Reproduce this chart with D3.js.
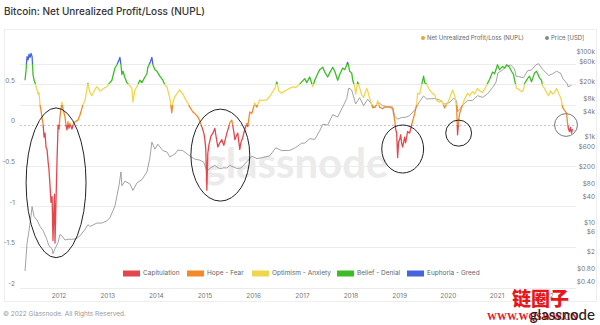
<!DOCTYPE html>
<html>
<head>
<meta charset="utf-8">
<script src="https://cdn.jsdelivr.net/npm/d3@7"></script>
<style>
  html, body { margin: 0; padding: 0; background: #fff; }
  svg { display: block; font-family: Inter, "Open Sans", sans-serif; }
</style>
</head>
<body>
<svg id="chart" width="600" height="325"></svg>
<script>
// NUPL (Net Unrealized Profit/Loss) samples
const nuplDates = [
  "2011-04-21","2011-04-29","2011-05-06","2011-05-14","2011-05-21","2011-05-29","2011-06-05","2011-06-13","2011-06-20","2011-06-28",
  "2011-07-05","2011-07-20","2011-07-28","2011-08-04","2011-08-12","2011-08-19","2011-08-27","2011-09-03","2011-09-11","2011-09-18",
  "2011-09-26","2011-10-03","2011-10-11","2011-10-18","2011-10-26","2011-11-02","2011-11-10","2011-11-17","2011-11-25","2011-11-28",
  "2011-12-02","2011-12-10","2011-12-17","2011-12-25","2012-01-01","2012-01-08","2012-01-23","2012-01-31","2012-02-15","2012-02-22",
  "2012-03-01","2012-03-08","2012-03-16","2012-03-23","2012-04-07","2012-04-15","2012-04-30","2012-05-22","2012-06-06","2012-06-29",
  "2012-07-14","2012-08-05","2012-08-20","2012-09-04","2012-09-27","2012-10-12","2012-11-03","2012-11-18","2012-12-11","2012-12-26",
  "2013-01-17","2013-02-01","2013-02-24","2013-03-11","2013-03-26","2013-04-02","2013-04-10","2013-04-17","2013-04-25","2013-05-10",
  "2013-05-25","2013-06-16","2013-07-01","2013-07-09","2013-07-24","2013-08-08","2013-08-30","2013-09-14","2013-10-07","2013-10-22",
  "2013-10-29","2013-11-13","2013-11-28","2013-12-06","2013-12-21","2014-01-05","2014-01-12","2014-01-27","2014-02-19","2014-03-06",
  "2014-03-21","2014-04-12","2014-04-27","2014-05-05","2014-05-20","2014-06-11","2014-06-26","2014-07-19","2014-08-03","2014-08-25",
  "2014-09-09","2014-10-02","2014-10-17","2014-11-08","2014-11-23","2014-12-08","2014-12-23","2014-12-31","2015-01-07","2015-01-15",
  "2015-01-22","2015-01-30","2015-02-14","2015-03-01","2015-03-16","2015-03-23","2015-04-07","2015-04-22","2015-05-07","2015-05-22",
  "2015-06-14","2015-06-29","2015-07-06","2015-07-21","2015-08-05","2015-08-13","2015-08-28","2015-09-04","2015-09-19","2015-09-27",
  "2015-10-12","2015-10-27","2015-11-11","2015-11-18","2015-12-03","2015-12-18","2016-01-10","2016-01-25","2016-02-16","2016-03-10",
  "2016-04-09","2016-05-01","2016-05-16","2016-06-08","2016-06-23","2016-07-08","2016-07-30","2016-08-14","2016-09-06","2016-09-28",
  "2016-10-21","2016-11-12","2016-12-12","2016-12-27","2017-01-19","2017-02-03","2017-02-25","2017-03-20","2017-04-04","2017-04-26",
  "2017-05-11","2017-06-03","2017-06-18","2017-07-10","2017-07-25","2017-08-17","2017-09-01","2017-09-23","2017-10-08","2017-10-31",
  "2017-11-15","2017-11-30","2017-12-07","2017-12-15","2017-12-22","2018-01-06","2018-01-14","2018-01-29","2018-02-05","2018-02-20",
  "2018-03-07","2018-03-22","2018-04-06","2018-04-29","2018-05-06","2018-05-21","2018-06-13","2018-06-28","2018-07-13","2018-07-20",
  "2018-08-04","2018-08-27","2018-09-11","2018-09-26","2018-10-18","2018-11-10","2018-11-25","2018-12-02","2018-12-10","2018-12-17",
  "2018-12-25","2019-01-01","2019-01-09","2019-01-16","2019-01-24","2019-02-08","2019-02-15","2019-03-02","2019-03-17","2019-04-01",
  "2019-04-24","2019-05-09","2019-05-16","2019-05-31","2019-06-15","2019-06-30","2019-07-08","2019-07-23","2019-08-14","2019-08-29",
  "2019-09-21","2019-10-06","2019-10-28","2019-11-12","2019-12-05","2019-12-27","2020-01-11","2020-02-03","2020-02-18","2020-03-04",
  "2020-03-11","2020-03-19","2020-03-26","2020-04-18","2020-05-03","2020-05-25","2020-06-09","2020-07-02","2020-07-17","2020-08-08",
  "2020-08-23","2020-09-15","2020-09-30","2020-10-22","2020-11-06","2020-11-29","2020-12-14","2021-01-05","2021-01-20","2021-02-12",
  "2021-02-27","2021-03-14","2021-04-05","2021-04-20","2021-05-05","2021-05-13","2021-05-28","2021-06-12","2021-07-04","2021-07-19",
  "2021-07-27","2021-08-18","2021-09-02","2021-09-17","2021-10-10","2021-10-25","2021-11-16","2021-12-01","2021-12-09","2021-12-24",
  "2022-01-08","2022-01-23","2022-02-07","2022-02-22","2022-03-09","2022-03-24","2022-04-08","2022-04-23","2022-04-30","2022-05-08",
  "2022-05-23","2022-06-07","2022-06-14","2022-06-22","2022-06-29","2022-07-07","2022-07-14","2022-07-22"
];
const nuplValues = [
  0.55,0.68,0.84,0.80,0.87,0.83,0.88,0.84,0.62,0.55,
  0.52,0.43,0.38,0.40,0.24,0.18,0.08,0.02,-0.15,-0.10,
  -0.28,-0.30,-0.45,-0.55,-0.76,-0.95,-0.88,-1.42,-0.95,-0.85,
  -1.45,-0.90,-0.45,0.00,-0.05,0.10,0.28,0.20,0.10,0.00,
  -0.06,0.04,-0.04,0.02,-0.05,0.00,0.04,0.06,0.12,0.25,
  0.30,0.51,0.40,0.36,0.44,0.47,0.42,0.43,0.46,0.47,
  0.52,0.55,0.70,0.74,0.80,0.83,0.74,0.62,0.66,0.58,
  0.52,0.48,0.45,0.28,0.43,0.47,0.55,0.52,0.59,0.63,
  0.71,0.76,0.83,0.74,0.68,0.66,0.64,0.60,0.55,0.49,
  0.47,0.33,0.15,0.28,0.35,0.40,0.43,0.38,0.33,0.27,
  0.22,0.16,0.14,0.10,0.05,-0.02,-0.10,-0.18,-0.30,-0.80,
  -0.35,-0.25,-0.14,-0.10,-0.04,-0.12,-0.27,-0.22,-0.18,-0.25,
  -0.10,-0.02,0.03,0.06,-0.08,-0.18,-0.12,-0.10,-0.30,-0.22,
  -0.15,-0.05,0.02,-0.02,0.16,0.14,0.27,0.22,0.31,0.30,
  0.31,0.35,0.39,0.45,0.53,0.42,0.39,0.41,0.43,0.45,
  0.47,0.46,0.50,0.53,0.57,0.52,0.59,0.47,0.55,0.63,
  0.68,0.71,0.65,0.59,0.64,0.71,0.66,0.55,0.62,0.70,
  0.68,0.74,0.77,0.72,0.66,0.64,0.55,0.47,0.38,0.53,
  0.46,0.37,0.34,0.45,0.42,0.33,0.21,0.22,0.25,0.30,
  0.22,0.20,0.22,0.22,0.22,0.20,0.06,-0.05,-0.10,-0.40,
  -0.20,-0.18,-0.12,-0.22,-0.27,-0.15,-0.22,-0.08,-0.10,0.00,
  0.14,0.25,0.39,0.38,0.49,0.60,0.52,0.50,0.43,0.40,
  0.37,0.30,0.28,0.30,0.21,0.27,0.33,0.43,0.36,0.22,
  -0.12,0.05,0.14,0.25,0.32,0.39,0.36,0.41,0.38,0.45,
  0.42,0.40,0.44,0.51,0.56,0.65,0.63,0.74,0.68,0.72,
  0.70,0.74,0.71,0.66,0.62,0.55,0.45,0.44,0.41,0.43,
  0.51,0.57,0.60,0.53,0.64,0.66,0.58,0.55,0.48,0.45,
  0.40,0.36,0.42,0.38,0.40,0.45,0.39,0.34,0.30,0.22,
  0.18,0.15,0.03,-0.05,-0.08,-0.03,-0.10,-0.05
];

// BTC price (USD) samples
const priceDates = [
  "2011-04-21","2011-05-06","2011-05-21","2011-06-05","2011-06-13","2011-06-28","2011-07-20","2011-08-12","2011-09-03","2011-09-26",
  "2011-10-18","2011-11-10","2011-11-17","2011-12-02","2011-12-25","2012-01-08","2012-01-23","2012-02-15","2012-03-08","2012-04-07",
  "2012-05-08","2012-06-06","2012-07-14","2012-08-05","2012-08-20","2012-09-04","2012-10-12","2012-11-18","2012-12-26","2013-01-17",
  "2013-02-24","2013-03-26","2013-04-10","2013-04-17","2013-05-10","2013-06-16","2013-07-09","2013-08-08","2013-09-14","2013-10-22",
  "2013-11-13","2013-11-28","2013-12-21","2014-01-12","2014-02-19","2014-03-21","2014-04-12","2014-05-20","2014-06-11","2014-07-19",
  "2014-08-25","2014-09-24","2014-10-17","2014-11-23","2014-12-23","2015-01-15","2015-02-14","2015-03-16","2015-04-22","2015-05-22",
  "2015-06-14","2015-07-06","2015-08-28","2015-09-27","2015-10-27","2015-11-11","2015-12-03","2015-12-18","2016-01-25","2016-03-10",
  "2016-04-29","2016-06-16","2016-07-30","2016-09-28","2016-11-12","2016-12-27","2017-01-19","2017-02-25","2017-04-04","2017-05-11",
  "2017-06-03","2017-07-10","2017-08-17","2017-09-23","2017-10-31","2017-11-30","2017-12-15","2018-01-06","2018-02-05","2018-03-07",
  "2018-04-06","2018-05-06","2018-06-28","2018-07-25","2018-08-27","2018-09-26","2018-11-10","2018-11-25","2018-12-17","2019-01-16",
  "2019-02-15","2019-03-17","2019-04-24","2019-05-31","2019-06-30","2019-07-23","2019-09-21","2019-10-28","2019-12-05","2020-01-11",
  "2020-02-11","2020-03-04","2020-03-12","2020-04-18","2020-05-25","2020-07-02","2020-08-08","2020-09-15","2020-10-22","2020-11-29",
  "2020-12-25","2021-01-08","2021-02-12","2021-03-14","2021-04-14","2021-05-13","2021-05-23","2021-07-19","2021-08-18","2021-09-17",
  "2021-10-20","2021-11-09","2021-12-09","2022-01-23","2022-02-22","2022-03-24","2022-04-23","2022-05-12","2022-06-14","2022-06-18",
  "2022-07-14"
];
const priceValues = [
  0.9,4,8,18,29,17,14,10,8,5.5,
  3.5,3,2.3,3,4.2,6.5,6,4.8,5,5,
  5.1,6,8.5,11,10,10.5,12,12,13.5,16,
  30,90,190,90,115,100,70,105,125,190,
  400,950,650,850,600,560,430,500,620,600,
  490,420,380,360,320,200,240,270,225,238,
  235,270,230,235,290,330,390,445,390,415,
  450,700,600,610,710,900,900,1150,1100,1750,
  2500,2400,4200,3700,6400,10000,17700,16000,7500,10500,
  6800,9700,6000,8200,6800,6500,6400,3900,3300,3600,
  3650,4000,5400,8500,11500,9800,10000,9300,7400,8100,
  10300,8800,4900,7100,8900,9100,11700,10700,12900,18200,
  24500,40000,47000,58000,61000,50000,34000,30800,45000,47000,
  62000,66000,49000,35000,38000,44000,39500,29000,22000,19000,
  20500
];

// Axis tick values and labels
const nuplTicks = [0.5, 0, -0.5, -1, -1.5, -2];
const nuplGrid = [0.75, 0.5, 0.25, 0, -0.5, -1, -1.5, -2];
const priceTicks = [100000, 60000, 20000, 8000, 4000, 1000, 600, 200, 80, 40, 10, 6, 2, 0.8, 0.4];
const priceTickLabels = ["$100k","$60k","$20k","$8k","$4k","$1k","$600","$200","$80","$40","$10","$6","$2","$0.80","$0.40"];
const yearTicks = [2012, 2013, 2014, 2015, 2016, 2017, 2018, 2019, 2020, 2021, 2022];

// Market-sentiment zones (lower bound of each band)
const zoneNames = ["Capitulation", "Hope - Fear", "Optimism - Anxiety", "Belief - Denial", "Euphoria - Greed"];
const zoneColors = ["#e3474d", "#f28a2a", "#efd64c", "#3cbd27", "#4465dd"];
const zoneBounds = [0, 0.25, 0.5, 0.75];

// Highlighted capitulation episodes: centre date/value with half-widths in days / NUPL units
const highlightDates = ["2011-12-10", "2015-04-26", "2019-01-24", "2020-03-19", "2022-06-03"];
const highlightValues = [-0.71, -0.37, -0.295, -0.10, 0.0];
const highlightDays = [225, 221, 157, 97, 86];
const highlightSpans = [0.92, 0.565, 0.295, 0.16, 0.14];

const parse = d3.utcParse("%Y-%m-%d");
const nupl = nuplDates.map((d, i) => ({ date: parse(d), value: nuplValues[i] }));
const price = priceDates.map((d, i) => ({ date: parse(d), value: priceValues[i] }));

const svg = d3.select("#chart");
const W = 600, H = 325;
const plotLeft = 20, plotRight = 576;

const x = d3.scaleUtc()
  .domain([new Date(Date.UTC(2012, 0, 1)), new Date(Date.UTC(2021, 0, 1))])
  .range([59, 497]);
const y = d3.scaleLinear().domain([-2, 1]).range([287.8, 43.6]);
const yPrice = d3.scaleLog().domain([0.4, 100000]).range([286, 56]);

// Title
svg.append("text")
  .attr("x", 4).attr("y", 14.5)
  .attr("font-size", 10).attr("font-weight", 500).attr("fill", "#333")
  .text("Bitcoin: Net Unrealized Profit/Loss (NUPL)");

// Panel frame
svg.append("rect")
  .attr("x", 4.5).attr("y", 29.5).attr("width", 592).attr("height", 272)
  .attr("fill", "none").attr("stroke", "#eeeeee");

// Horizontal gridlines
svg.append("g").selectAll("line").data(nuplGrid).join("line")
  .attr("x1", plotLeft).attr("x2", plotRight)
  .attr("y1", d => Math.round(y(d)) + 0.5).attr("y2", d => Math.round(y(d)) + 0.5)
  .attr("stroke", d => d === 0 ? "#c8c8c8" : "#ececec")
  .attr("stroke-dasharray", d => (d === 0 ? "2,2" : null))
  .attr("stroke-width", 1);

// Background brand mark
svg.append("text")
  .attr("x", 296).attr("y", 178).attr("text-anchor", "middle")
  .attr("font-family", "Lato, Inter, sans-serif")
  .attr("font-size", 42).attr("font-weight", 700).attr("fill", "#ebebeb")
  .text("glassnode");

// Left axis labels (NUPL)
svg.append("g").selectAll("text").data(nuplTicks).join("text")
  .attr("x", 15).attr("y", d => y(d) - 3.5)
  .attr("text-anchor", "end").attr("dominant-baseline", "middle")
  .attr("font-size", 6.5).attr("fill", "#777")
  .text(d => d3.format("")(d).replace("−", "-"));

// Right axis labels (price)
svg.append("g").selectAll("text").data(priceTicks).join("text")
  .attr("x", 595).attr("y", d => yPrice(d) - 3.5)
  .attr("text-anchor", "end").attr("dominant-baseline", "middle")
  .attr("font-size", 6.5).attr("fill", "#777")
  .text((d, i) => priceTickLabels[i]);

// Bottom axis labels (years)
svg.append("g").selectAll("text").data(yearTicks).join("text")
  .attr("x", d => x(new Date(Date.UTC(d, 0, 1))))
  .attr("y", 296)
  .attr("text-anchor", "middle").attr("dominant-baseline", "middle")
  .attr("font-size", 6.5).attr("fill", "#777")
  .text(d => d);

// Price line
svg.append("path")
  .datum(price)
  .attr("fill", "none").attr("stroke", "#8a8a8a").attr("stroke-width", 0.8)
  .attr("d", d3.line().x(d => x(d.date)).y(d => yPrice(d.value)));

// NUPL line coloured by zone via a vertical hard-stop gradient
const defs = svg.append("defs");
const grad = defs.append("linearGradient")
  .attr("id", "zoneGrad").attr("gradientUnits", "userSpaceOnUse")
  .attr("x1", 0).attr("x2", 0).attr("y1", y(-2)).attr("y2", y(1));
const span = y(1) - y(-2);
const edges = [-2, ...zoneBounds, 1];
zoneColors.forEach((c, i) => {
  grad.append("stop").attr("offset", (y(edges[i]) - y(-2)) / span).attr("stop-color", c);
  grad.append("stop").attr("offset", (y(edges[i + 1]) - y(-2)) / span).attr("stop-color", c);
});

svg.append("path")
  .datum(nupl)
  .attr("fill", "none").attr("stroke", "url(#zoneGrad)").attr("stroke-width", 1.3)
  .attr("stroke-linejoin", "round")
  .attr("d", d3.line().x(d => x(d.date)).y(d => y(d.value)));

// Highlight ellipses
svg.append("g").selectAll("ellipse").data(highlightDates).join("ellipse")
  .attr("cx", d => x(parse(d)))
  .attr("cy", (d, i) => y(highlightValues[i]))
  .attr("rx", (d, i) => x(d3.utcDay.offset(parse(d), highlightDays[i])) - x(parse(d)))
  .attr("ry", (d, i) => y(highlightValues[i] - highlightSpans[i]) - y(highlightValues[i]))
  .attr("fill", "none")
  .attr("stroke", (d, i) => i === 4 ? "#777" : "#222")
  .attr("stroke-width", 1);

// Top legend
const topLegend = [
  { label: "Net Unrealized Profit/Loss (NUPL)", color: "#f2a12e", x: 423 },
  { label: "Price [USD]", color: "#888", x: 547 }
];
const tl = svg.append("g").selectAll("g").data(topLegend).join("g")
  .attr("transform", d => `translate(${d.x},38)`);
tl.append("circle").attr("r", 2).attr("fill", d => d.color);
tl.append("text").attr("x", 4).attr("dominant-baseline", "middle")
  .attr("font-size", 6).attr("fill", "#666").text(d => d.label);

// Bottom zone legend
const legendX = [123, 187, 252, 337, 407];
const bl = svg.append("g").selectAll("g").data(zoneNames).join("g")
  .attr("transform", (d, i) => `translate(${legendX[i]},273.5)`);
bl.append("rect").attr("x", 0).attr("y", -3).attr("width", 17).attr("height", 6)
  .attr("fill", (d, i) => zoneColors[i]);
bl.append("text").attr("x", 20).attr("dominant-baseline", "middle")
  .attr("font-size", 6.5).attr("fill", "#666").text(d => d);

// Footer
svg.append("text")
  .attr("x", 3).attr("y", 316)
  .attr("font-size", 6.5).attr("fill", "#999")
  .text("© 2022 Glassnode. All Rights Reserved.");

// Republisher marks
svg.append("text")
  .attr("x", 512).attr("y", 306)
  .attr("font-family", "'Noto Sans CJK SC', sans-serif")
  .attr("font-size", 19).attr("font-weight", 900).attr("fill", "#e5161c")
  .text("链圈子");
svg.append("text")
  .attr("x", 487).attr("y", 320)
  .attr("font-family", "'Liberation Serif', serif")
  .attr("font-size", 10).attr("font-weight", 700).attr("fill", "#e5161c")
  .text("WWW.WQSWW.CN");
svg.append("text")
  .attr("x", 595).attr("y", 320).attr("text-anchor", "end")
  .attr("font-family", "Lato, Inter, sans-serif")
  .attr("font-size", 15).attr("font-weight", 500).attr("fill", "#222")
  .text("glassnode");
</script>
</body>
</html>
